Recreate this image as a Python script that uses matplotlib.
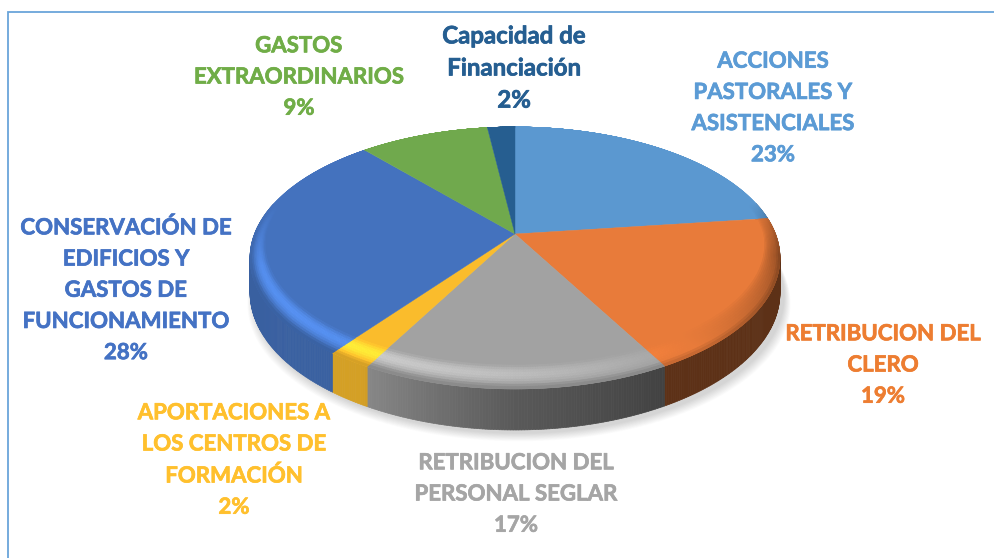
import numpy as np
from matplotlib import pyplot as plt
from matplotlib import patheffects as pe
from matplotlib.collections import PolyCollection
from matplotlib.colors import to_rgb

# slice sizes, clockwise from twelve o'clock
categories = ['ACCIONES\nPASTORALES Y\nASISTENCIALES', 'RETRIBUCION DEL\nCLERO',
              'RETRIBUCION DEL\nPERSONAL SEGLAR', 'APORTACIONES A\nLOS CENTROS DE\nFORMACIÓN',
              'CONSERVACIÓN DE\nEDIFICIOS Y\nGASTOS DE\nFUNCIONAMIENTO',
              'GASTOS\nEXTRAORDINARIOS', 'Capacidad de\nFinanciación']
values = [23, 19, 15.9, 2.3, 28.4, 9.4, 2.0]
percent_labels = ['23%', '19%', '17%', '2%', '28%', '9%', '2%']

colors = ['#5B98D0', '#E87B3A', '#A2A2A2', '#FABC2C', '#4472BE', '#70A94D', '#265E90']
text_colors = ['#5B9BD5', '#ED7D31', '#A5A5A5', '#FFC02D', '#4472C4', '#70AD47', '#255E91']
label_pos = [(773, 108), (883, 365), (516, 494), (234, 460), (126, 290), (299, 77), (514, 68)]
label_size = [16, 16, 16, 16, 16, 16, 17.3]

# pie geometry in pixels
cx, cy = 515, 234
rx, ry = 260.5, 126.6
k = 0.183
wall = 33.5
N = 720


def project(r, t):
    u = r * np.sin(t)
    v = r * np.cos(t)
    d = 1 + k * v
    return cx + rx * u / d, cy - ry * v / d, d


def inner_radius(t):
    # bevel is wide at the front, thin at the sides, gone at the back
    v = np.cos(t)
    return 1 - np.where(v < 0, 0.045 - 0.085 * v, 0.045 * (1 - v))


def wall_shade(t):
    # bright at front left, dark at front right
    deg = np.degrees(t) % 360
    return np.interp(deg, [0, 90, 150, 180, 210, 270, 360],
                     [0.40, 0.40, 0.40, 0.55, 0.85, 0.84, 0.84])


def bevel_rgb(base, t, s):
    # s goes 0..1 across the bevel, inner to outer
    v = np.cos(t)
    front = np.clip(0.25 - v, 0, 1) / 1.25
    light = np.cos(t - np.radians(232))
    prof = np.sin(np.pi * min(s * 1.25, 1.0))
    c = np.array(base)
    if light > 0:
        c = c * (1 + 0.28 * light * prof * min(front * 2.5, 1))
    else:
        c = c * (1 + 0.55 * light * s ** 0.6 * min(front * 3, 1))
    # darker towards the wall on the way out
    c = c * (1 - 0.18 * max(s - 0.75, 0) / 0.25 * min(front * 2, 1))
    return np.clip(c, 0, 1)


fig = plt.figure(figsize=(9.94, 5.58), dpi=100)
ax = fig.add_axes([0, 0, 1, 1])
ax.set_xlim(0, 994)
ax.set_ylim(558, 0)
ax.axis('off')

# soft shadow
tt = np.linspace(0, 2 * np.pi, 300)
for i in range(14):
    x, y, d = project(1.0, tt)
    grow = 1 + 0.0018 * (14 - i)
    ax.fill(cx + (x - cx) * grow + 4, y + wall / d + 3 + 0.6 * (14 - i), color='k', alpha=0.012, lw=0, zorder=1)

fracs = np.array(values) / sum(values)
edges = np.concatenate([[0], np.cumsum(fracs)]) * 2 * np.pi

# walls
polys, cols = [], []
for i, c in enumerate(colors):
    n = max(int(N * fracs[i]), 4)
    ts = np.linspace(edges[i], edges[i + 1], n + 1)
    for a, b in zip(ts[:-1], ts[1:]):
        if np.cos(0.5 * (a + b)) > 0.25:
            continue
        x1, y1, d1 = project(1, a)
        x2, y2, d2 = project(1, b)
        polys.append([(x1, y1), (x2, y2), (x2, y2 + wall / d2), (x1, y1 + wall / d1)])
        cols.append(np.array(to_rgb(c)) * wall_shade(0.5 * (a + b)))
ax.add_collection(PolyCollection(polys, facecolors=cols, edgecolors=cols, linewidths=0.5, zorder=2))

# top faces
for i, c in enumerate(colors):
    ts = np.linspace(edges[i], edges[i + 1], max(int(N * fracs[i]), 4) + 1)
    x, y, _ = project(1, ts)
    ax.fill(np.r_[cx, x], np.r_[cy, y], color=c, lw=0.3, zorder=3)

# bevel round the rim
polys, cols = [], []
steps = np.linspace(0, 1, 11)
for i, c in enumerate(colors):
    base = to_rgb(c)
    ts = np.linspace(edges[i], edges[i + 1], max(int(N * fracs[i]), 4) + 1)
    for a, b in zip(ts[:-1], ts[1:]):
        ra, rb = inner_radius(a), inner_radius(b)
        for j in range(len(steps) - 1):
            s0, s1 = steps[j], steps[j + 1]
            x1, y1, _ = project(ra + (1 - ra) * s0, a)
            x2, y2, _ = project(rb + (1 - rb) * s0, b)
            x3, y3, _ = project(rb + (1 - rb) * s1, b)
            x4, y4, _ = project(ra + (1 - ra) * s1, a)
            polys.append([(x1, y1), (x2, y2), (x3, y3), (x4, y4)])
            cols.append(bevel_rgb(base, 0.5 * (a + b), 0.5 * (s0 + s1)))
ax.add_collection(PolyCollection(polys, facecolors=cols, edgecolors=cols, linewidths=0.4, zorder=4))

# frame, only top and left are in the crop
ax.plot([8, 8, 994], [558, 12, 12], color='#6AA5DA', lw=1.3, zorder=5, solid_joinstyle='miter')

for name, pct, col, (lx, ly), fs in zip(categories, percent_labels, text_colors, label_pos, label_size):
    ax.text(lx, ly, name + '\n' + pct, color=col, ha='center', va='center', multialignment='center',
            family='Lato', weight='bold', fontsize=fs, linespacing=1.6 * 16 / fs, zorder=6,
            path_effects=[pe.withStroke(linewidth=0.5, foreground=col)])

fig.savefig('out.png', dpi=100)
